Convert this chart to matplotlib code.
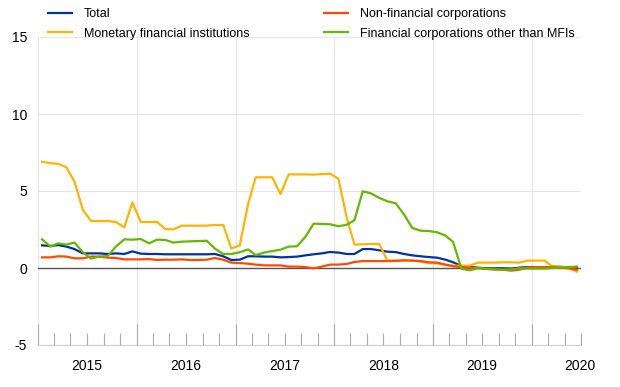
import matplotlib
matplotlib.use("Agg")
import matplotlib.pyplot as plt
import numpy as np
import pandas as pd
import matplotlib.dates as mdates
from matplotlib.transforms import blended_transform_factory

plt.rcParams['font.family'] = ['Liberation Sans', 'DejaVu Sans']

dates = pd.date_range("2015-01-01", periods=66, freq="MS") + pd.Timedelta(days=15)

total = [1.47, 1.43, 1.49, 1.39, 1.23, 0.95, 0.95, 0.95, 0.91, 0.95, 0.91, 1.08,
         0.93, 0.91, 0.91, 0.89, 0.89, 0.89, 0.89, 0.89, 0.89, 0.91, 0.76, 0.52,
         0.54, 0.76, 0.76, 0.74, 0.74, 0.69, 0.71, 0.74, 0.82, 0.89, 0.95, 1.04,
         1.00, 0.91, 0.91, 1.23, 1.23, 1.15, 1.06, 1.03, 0.91, 0.82, 0.76, 0.71,
         0.67, 0.54, 0.37, 0.13, 0.06, 0.02, -0.02, -0.02, -0.02, -0.04, 0.02, 0.06,
         0.06, 0.04, 0.04, 0.06, 0.06, 0.06]

nfc = [0.69, 0.69, 0.76, 0.74, 0.63, 0.63, 0.74, 0.74, 0.67, 0.65, 0.56, 0.56,
       0.56, 0.58, 0.52, 0.54, 0.54, 0.56, 0.52, 0.52, 0.54, 0.65, 0.54, 0.35,
       0.32, 0.28, 0.22, 0.17, 0.17, 0.17, 0.09, 0.09, 0.06, -0.02, 0.09, 0.22,
       0.22, 0.26, 0.39, 0.45, 0.45, 0.45, 0.45, 0.46, 0.50, 0.48, 0.45, 0.37,
       0.35, 0.22, 0.11, 0.06, 0.00, 0.00, -0.04, -0.06, -0.11, -0.17, -0.11, 0.04,
       0.06, 0.06, 0.06, 0.02, -0.02, -0.11]

mfi = [6.90, 6.80, 6.77, 6.54, 5.60, 3.77, 3.05, 3.05, 3.05, 2.99, 2.64, 4.26,
       2.99, 2.99, 2.99, 2.53, 2.51, 2.75, 2.75, 2.75, 2.75, 2.79, 2.79, 1.26,
       1.47, 4.16, 5.89, 5.89, 5.89, 4.80, 6.08, 6.08, 6.08, 6.06, 6.10, 6.13,
       5.80, 3.25, 1.52, 1.54, 1.56, 1.56, 0.48, 0.48, 0.48, 0.48, 0.41, 0.32,
       0.30, 0.19, 0.15, 0.15, 0.15, 0.35, 0.35, 0.35, 0.37, 0.37, 0.35, 0.48,
       0.48, 0.48, 0.13, 0.11, 0.00, -0.24]

ofi = [1.86, 1.39, 1.60, 1.52, 1.65, 1.02, 0.61, 0.74, 0.78, 1.39, 1.86, 1.84,
       1.88, 1.60, 1.84, 1.82, 1.65, 1.71, 1.73, 1.75, 1.77, 1.26, 0.91, 0.91,
       1.02, 1.21, 0.84, 1.00, 1.10, 1.19, 1.39, 1.41, 2.03, 2.88, 2.86, 2.84,
       2.71, 2.81, 3.10, 4.98, 4.85, 4.55, 4.33, 4.20, 3.46, 2.60, 2.42, 2.40,
       2.32, 2.10, 1.69, -0.05, -0.15, -0.02, -0.06, -0.11, -0.11, -0.09, -0.02, -0.04,
       -0.04, -0.04, 0.00, 0.02, 0.06, 0.09]

year_labels = ["2015", "2016", "2017", "2018", "2019", "2020"]
label_dates = ["2015-07-01", "2016-07-01", "2017-07-01", "2018-07-01", "2019-07-01", "2020-06-25"]

c_total = "#003299"
c_mfi = "#ffb400"
c_nfc = "#ff4b00"
c_ofi = "#65b800"

fig = plt.figure(figsize=(6.2, 3.87), dpi=100)
ax = fig.add_axes([38/620, 1-345/387, (581-38)/620, (345-37)/387])

lw = 1.6
l1, = ax.plot(dates, total, color=c_total, lw=lw, label="Total", zorder=3)
l2, = ax.plot(dates, mfi, color=c_mfi, lw=lw, label="Monetary financial institutions", zorder=3)
l3, = ax.plot(dates, nfc, color=c_nfc, lw=lw, label="Non-financial corporations", zorder=3)
l4, = ax.plot(dates, ofi, color=c_ofi, lw=lw, label="Financial corporations other than MFIs", zorder=3)

ax.axhline(0, color="#555555", lw=1.0, zorder=2)

ax.set_xlim(pd.Timestamp("2015-01-01"), pd.Timestamp("2020-07-01"))
ax.set_ylim(-5, 15)
ax.set_yticks([-5, 0, 5, 10, 15])
ax.set_yticklabels(["-5", "0", "5", "10", "15"])

for s in ["top", "right", "left"]:
    ax.spines[s].set_visible(False)
ax.spines["bottom"].set_color("#cccccc")

ax.xaxis.set_major_locator(mdates.YearLocator())
ax.xaxis.set_minor_locator(mdates.MonthLocator(bymonth=[3, 5, 7, 9, 11]))
ax.xaxis.set_major_formatter(plt.NullFormatter())
ax.tick_params(axis="x", which="major", direction="in", length=15, color="#aaaaaa", width=0.8)
ax.tick_params(axis="x", which="minor", direction="in", length=9, color="#aaaaaa", width=0.8)
ax.tick_params(axis="y", length=0, labelsize=10, pad=8)

ax.grid(True, axis="y", color="#e6e6e6", lw=0.8, zorder=0)
ax.grid(True, axis="x", which="major", color="#e6e6e6", lw=0.8, zorder=0)

trans = blended_transform_factory(ax.transData, ax.transAxes)
for lab, d in zip(year_labels, label_dates):
    ax.text(pd.Timestamp(d), -0.045, lab, transform=trans, ha="center", va="top", fontsize=10)

fig.legend(handles=[l1, l2, l3, l4], ncol=2, loc="upper left",
           bbox_to_anchor=(41/620, 1 - 1/387), frameon=False, fontsize=9,
           handlelength=1.9, handletextpad=1.0, columnspacing=5.95,
           labelspacing=0.62, borderaxespad=0.15)

fig.savefig("out.png", dpi=100)
